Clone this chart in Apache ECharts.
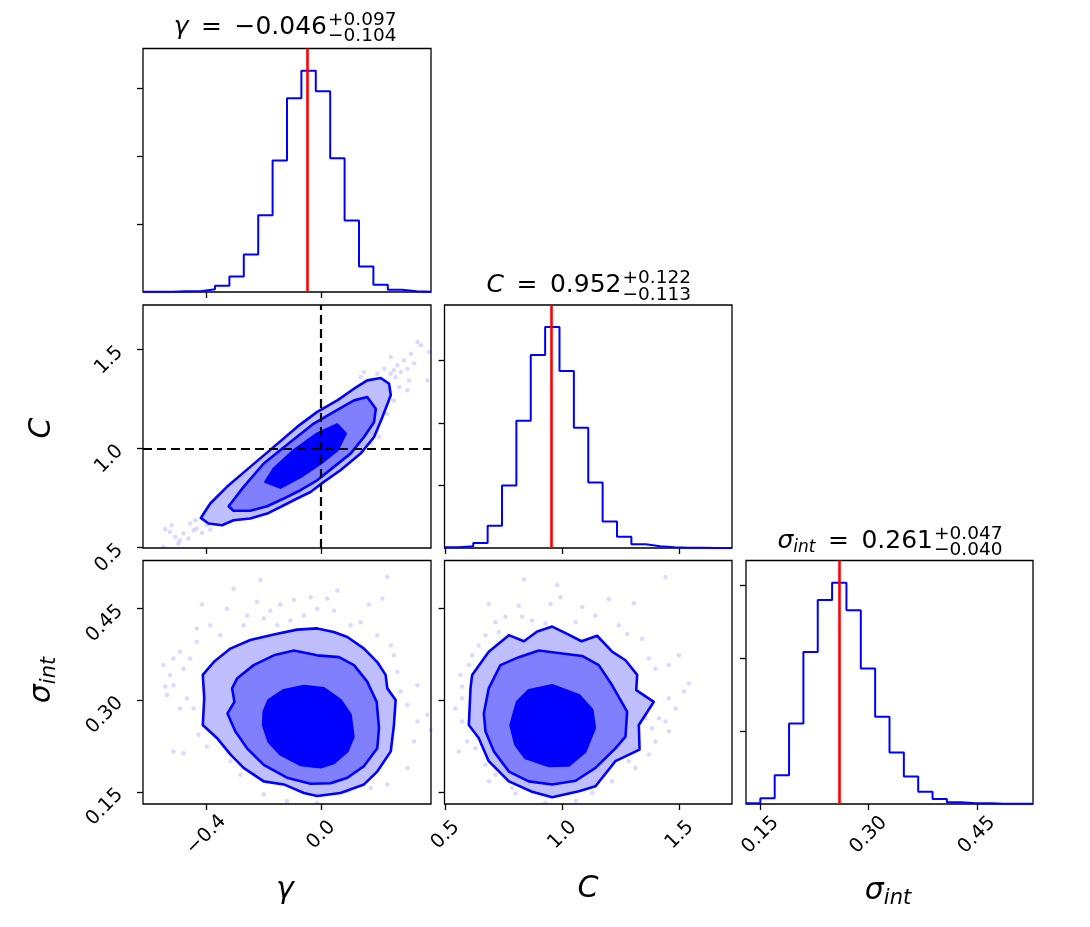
<!DOCTYPE html>
<html>
<head>
  <meta charset="UTF-8">
  <title>corner plot</title>
  <style>
    html, body { height: 100%; width: 100%; margin: 0; padding: 0; background: #fff; }
  </style>
  <script src="https://cdn.jsdelivr.net/npm/echarts@6/dist/echarts.min.js"></script>
</head>
<body>
<div id="main" style="width: 1090px; height: 927px;"></div>
<script>
  // --- data ---
  // axis limits of each parameter
  var gammaRange = [-0.62, 0.382];
  var cRange = [0.496, 1.724];
  var sigmaRange = [0.13, 0.528];

  // tick values
  var gammaTicks = [-0.4, 0.0];
  var cTicks = [0.5, 1.0, 1.5];
  var sigmaTicks = [0.15, 0.30, 0.45];
  var histTicks = [1000, 2000, 3000];

  // median, +err, -err
  var gammaSummary = [-0.046, 0.097, 0.104];
  var cSummary = [0.952, 0.122, 0.113];
  var sigmaSummary = [0.261, 0.047, 0.040];

  // truth values (dashed lines)
  var truthGamma = 0.0;
  var truthC = 1.0;

  // histogram counts, 20 bins over the axis range
  var gammaCounts = [5, 5, 10, 10, 39, 93, 230, 554, 1132, 1936, 2853, 3260, 2956, 1971, 1054, 377, 108, 34, 10, 5];
  var cCounts = [11, 27, 80, 356, 1000, 2037, 3090, 3537, 2835, 1926, 1048, 426, 181, 59, 27, 11, 5, 5, 0, 0];
  var sigmaCounts = [9, 78, 393, 1105, 2087, 2799, 3037, 2658, 1858, 1196, 708, 379, 169, 68, 23, 9, 9, 5, 5, 5];

  // contours: gamma vs C
  var gcOuter = [[-0.419, 0.648], [-0.392, 0.620], [-0.345, 0.611], [-0.305, 0.636], [-0.247, 0.645], [-0.188, 0.670],
    [-0.130, 0.712], [-0.084, 0.746], [-0.037, 0.779], [0.009, 0.830], [0.067, 0.889], [0.137, 0.973], [0.184, 1.057],
    [0.213, 1.158], [0.242, 1.268], [0.236, 1.327], [0.207, 1.355], [0.160, 1.343], [0.114, 1.301], [0.056, 1.242],
    [-0.014, 1.184], [-0.084, 1.108], [-0.165, 1.007], [-0.247, 0.906], [-0.328, 0.805], [-0.386, 0.721]];
  var gcMid = [[-0.322, 0.707], [-0.305, 0.684], [-0.247, 0.684], [-0.188, 0.707], [-0.130, 0.746], [-0.072, 0.788],
    [-0.014, 0.838], [0.044, 0.906], [0.102, 0.973], [0.149, 1.057], [0.184, 1.133], [0.190, 1.200], [0.160, 1.259],
    [0.114, 1.242], [0.044, 1.184], [-0.026, 1.125], [-0.107, 1.032], [-0.200, 0.923], [-0.270, 0.805]];
  var gcInner = [[-0.194, 0.830], [-0.142, 0.801], [-0.072, 0.855], [-0.002, 0.923], [0.056, 0.990], [0.085, 1.074],
    [0.056, 1.120], [-0.014, 1.074], [-0.095, 0.990], [-0.165, 0.897]];

  // contours: gamma vs sigma_int
  var gsOuter = [[-0.412, 0.341], [-0.407, 0.303], [-0.412, 0.259], [-0.363, 0.238], [-0.316, 0.211], [-0.270, 0.189],
    [-0.200, 0.167], [-0.130, 0.162], [-0.060, 0.148], [-0.014, 0.143], [0.067, 0.148], [0.149, 0.162], [0.195, 0.183],
    [0.242, 0.216], [0.253, 0.259], [0.259, 0.300], [0.230, 0.319], [0.224, 0.341], [0.195, 0.362], [0.149, 0.384],
    [0.091, 0.403], [0.044, 0.411], [-0.014, 0.417], [-0.084, 0.415], [-0.165, 0.407], [-0.247, 0.398], [-0.316, 0.384],
    [-0.374, 0.362]];
  var gsMid = [[-0.310, 0.319], [-0.302, 0.297], [-0.326, 0.278], [-0.299, 0.249], [-0.258, 0.221], [-0.200, 0.194],
    [-0.119, 0.173], [-0.037, 0.163], [0.033, 0.164], [0.091, 0.173], [0.149, 0.192], [0.195, 0.221], [0.201, 0.254],
    [0.193, 0.297], [0.160, 0.330], [0.114, 0.357], [0.062, 0.370], [-0.014, 0.373], [-0.095, 0.381], [-0.165, 0.373],
    [-0.235, 0.357], [-0.293, 0.335]];
  var gsInner = [[-0.202, 0.259], [-0.183, 0.232], [-0.142, 0.211], [-0.072, 0.194], [-0.002, 0.190], [0.044, 0.197],
    [0.091, 0.216], [0.112, 0.240], [0.102, 0.276], [0.067, 0.300], [0.009, 0.319], [-0.060, 0.323], [-0.130, 0.316],
    [-0.183, 0.300], [-0.200, 0.281]];

  // contours: C vs sigma_int
  var csOuter = [[0.600, 0.259], [0.607, 0.319], [0.614, 0.341], [0.685, 0.379], [0.771, 0.406], [0.835, 0.396],
    [0.892, 0.412], [0.956, 0.420], [1.020, 0.408], [1.081, 0.396], [1.148, 0.405], [1.212, 0.379], [1.269, 0.365],
    [1.319, 0.341], [1.315, 0.316], [1.390, 0.297], [1.326, 0.259], [1.329, 0.219], [1.226, 0.200], [1.141, 0.159],
    [1.070, 0.151], [0.956, 0.141], [0.870, 0.150], [0.771, 0.167], [0.685, 0.200], [0.642, 0.238]];
  var csMid = [[0.664, 0.278], [0.685, 0.319], [0.735, 0.357], [0.813, 0.370], [0.899, 0.381], [0.999, 0.376],
    [1.084, 0.372], [1.155, 0.357], [1.212, 0.324], [1.276, 0.281], [1.269, 0.240], [1.226, 0.221], [1.141, 0.189],
    [1.056, 0.168], [0.956, 0.162], [0.856, 0.167], [0.771, 0.183], [0.707, 0.216], [0.671, 0.249]];
  var csInner = [[0.778, 0.259], [0.799, 0.227], [0.842, 0.205], [0.942, 0.192], [1.027, 0.193], [1.098, 0.216],
    [1.138, 0.254], [1.127, 0.284], [1.070, 0.308], [0.956, 0.324], [0.856, 0.316], [0.806, 0.297]];

  // faint samples outside the contours
  var gcPoints = [[-0.543, 0.591], [-0.526, 0.577], [-0.508, 0.552], [-0.491, 0.535], [-0.549, 0.502], [-0.497, 0.519],
    [-0.456, 0.620], [-0.438, 0.636], [-0.479, 0.569], [-0.462, 0.544], [-0.433, 0.594], [-0.398, 0.611], [-0.380, 0.636],
    [-0.520, 0.611], [-0.444, 0.586], [-0.415, 0.572], [-0.386, 0.589], [-0.363, 0.620], [-0.340, 0.640], [-0.351, 0.678],
    [-0.316, 0.695], [-0.293, 0.721], [-0.264, 0.754], [0.335, 1.537], [0.347, 1.520], [0.312, 1.478], [0.288, 1.444],
    [0.265, 1.419], [0.253, 1.394], [0.242, 1.377], [0.259, 1.360], [0.277, 1.386], [0.300, 1.402], [0.323, 1.428],
    [0.370, 1.343], [0.271, 1.310], [0.300, 1.293], [0.253, 1.242], [0.230, 1.175], [0.207, 1.141], [0.190, 1.091],
    [0.201, 1.057], [0.172, 1.024], [0.149, 1.007], [0.219, 1.402], [0.195, 1.377], [0.149, 1.386], [0.137, 1.360],
    [0.376, 1.487], [0.306, 1.343], [0.242, 1.461]];
  var gsPoints = [[-0.415, 0.456], [-0.305, 0.482], [-0.212, 0.496], [-0.142, 0.456], [-0.095, 0.464], [-0.037, 0.468],
    [0.021, 0.466], [0.056, 0.479], [0.166, 0.456], [0.213, 0.466], [0.230, 0.501], [-0.223, 0.460], [-0.177, 0.446],
    [-0.258, 0.438], [-0.328, 0.449], [-0.386, 0.422], [-0.433, 0.417], [-0.491, 0.379], [-0.514, 0.368], [-0.549, 0.357],
    [-0.543, 0.322], [-0.514, 0.324], [-0.479, 0.351], [-0.456, 0.368], [-0.444, 0.286], [-0.491, 0.286], [-0.514, 0.216],
    [-0.479, 0.213], [-0.427, 0.243], [-0.398, 0.224], [-0.316, 0.200], [-0.281, 0.178], [-0.247, 0.183], [-0.200, 0.146],
    [-0.119, 0.135], [-0.014, 0.132], [0.091, 0.151], [0.172, 0.156], [0.230, 0.162], [0.300, 0.189], [0.323, 0.232],
    [0.335, 0.265], [0.370, 0.276], [0.381, 0.251], [0.277, 0.314], [0.300, 0.292], [0.335, 0.324], [0.265, 0.346],
    [0.253, 0.373], [0.242, 0.389], [0.195, 0.406], [0.137, 0.427], [0.102, 0.422], [0.044, 0.446], [-0.014, 0.449],
    [-0.060, 0.438], [-0.107, 0.430], [-0.153, 0.422], [-0.200, 0.433], [-0.270, 0.422], [-0.351, 0.406], [-0.433, 0.395],
    [-0.467, 0.303], [-0.526, 0.341], [-0.537, 0.308]];
  var csPoints = [[0.835, 0.497], [0.977, 0.488], [1.440, 0.501], [0.685, 0.457], [0.813, 0.454], [0.949, 0.457],
    [0.991, 0.468], [1.198, 0.465], [1.305, 0.458], [0.756, 0.436], [0.714, 0.427], [0.870, 0.430], [0.927, 0.425],
    [1.084, 0.452], [1.141, 0.438], [1.241, 0.422], [1.276, 0.408], [1.340, 0.400], [1.369, 0.368], [1.397, 0.351],
    [1.454, 0.357], [1.497, 0.373], [1.540, 0.327], [1.519, 0.314], [1.454, 0.303], [1.412, 0.270], [1.383, 0.254],
    [1.440, 0.265], [1.454, 0.249], [1.397, 0.232], [1.369, 0.211], [1.312, 0.189], [1.212, 0.167], [1.127, 0.148],
    [1.056, 0.135], [0.927, 0.132], [0.799, 0.147], [0.714, 0.178], [0.671, 0.194], [0.628, 0.221], [0.593, 0.232],
    [0.557, 0.216], [0.571, 0.265], [0.543, 0.286], [0.571, 0.322], [0.564, 0.341], [0.600, 0.357], [0.614, 0.373],
    [0.671, 0.406], [0.728, 0.411], [1.056, 0.427], [0.828, 0.436], [0.642, 0.389], [0.571, 0.303], [0.785, 0.156],
    [0.685, 0.167], [1.283, 0.200], [1.355, 0.270], [1.483, 0.286]];

  // --- chart ---
  var FONT = 'DejaVu Sans';
  var BLUE = '#0000ff';
  var chart = echarts.init(document.getElementById('main'), null, { renderer: 'canvas' });

  function minus(s) { return s.replace('-', '\u2212'); }
  function fmt1(v) { return minus(v.toFixed(1)); }
  function fmt2(v) { return minus(v.toFixed(2)); }

  // bin edges over an axis range
  function histData(range, counts) {
    var n = counts.length, w = (range[1] - range[0]) / n, out = [];
    for (var i = 0; i < n; i++) out.push([range[0] + i * w, counts[i]]);
    out.push([range[1], counts[n - 1]]);
    return out;
  }
  function histMax(counts) { return Math.max.apply(null, counts) * 1.1; }

  var grids = [
    { left: 143, top: 48.5, width: 288, height: 243.5 },   // 0 hist gamma
    { left: 143, top: 305, width: 288, height: 243 },      // 1 gamma-C
    { left: 444.5, top: 305, width: 287.5, height: 243 },  // 2 hist C
    { left: 143, top: 560.5, width: 288, height: 243.5 },  // 3 gamma-sigma
    { left: 444.5, top: 560.5, width: 287.5, height: 243.5 }, // 4 C-sigma
    { left: 746, top: 560.5, width: 287, height: 243.5 }   // 5 hist sigma
  ].map(function (g) {
    g.show = true; g.borderColor = '#000'; g.borderWidth = 1.3; g.backgroundColor = 'transparent';
    g.containLabel = false; g.outerBoundsMode = 'none';
    return g;
  });

  function axis(gridIndex, min, max, ticks, fmt, showLabel, isX) {
    var label = {
      show: showLabel, customValues: ticks, formatter: fmt, rotate: 45,
      fontSize: 19.5, color: '#000', fontFamily: FONT
    };
    if (isX) {
      // matplotlib centres the rotated x labels under the tick
      label.align = 'center'; label.verticalAlign = 'middle'; label.margin = 31;
    } else {
      label.margin = 23;
    }
    return {
      type: 'value', gridIndex: gridIndex, min: min, max: max,
      axisLine: { show: false, onZero: false },
      axisTick: { show: true, length: 6, customValues: ticks, lineStyle: { color: '#000', width: 1.3 } },
      axisLabel: label,
      splitLine: { show: false }
    };
  }

  var xAxes = [
    axis(0, gammaRange[0], gammaRange[1], gammaTicks, fmt1, false, true),
    axis(1, gammaRange[0], gammaRange[1], gammaTicks, fmt1, false, true),
    axis(2, cRange[0], cRange[1], cTicks, fmt1, false, true),
    axis(3, gammaRange[0], gammaRange[1], gammaTicks, fmt1, true, true),
    axis(4, cRange[0], cRange[1], cTicks, fmt1, true, true),
    axis(5, sigmaRange[0], sigmaRange[1], sigmaTicks, fmt2, true, true)
  ];
  var yAxes = [
    axis(0, 0, histMax(gammaCounts), histTicks, null, false),
    axis(1, cRange[0], cRange[1], cTicks, fmt1, true),
    axis(2, 0, histMax(cCounts), histTicks, null, false),
    axis(3, sigmaRange[0], sigmaRange[1], sigmaTicks, fmt2, true),
    axis(4, sigmaRange[0], sigmaRange[1], sigmaTicks, fmt2, false),
    axis(5, 0, histMax(sigmaCounts), histTicks, null, false)
  ];

  function histSeries(g, range, counts, median) {
    return {
      type: 'line', xAxisIndex: g, yAxisIndex: g, step: 'end', symbol: 'none', silent: true,
      data: histData(range, counts),
      lineStyle: { color: BLUE, width: 2 },
      markLine: {
        silent: true, symbol: 'none', label: { show: false },
        lineStyle: { color: '#ff0000', width: 2.6, type: 'solid' },
        data: [{ xAxis: median }]
      }
    };
  }

  function contourSeries(g, poly, fill) {
    return {
      type: 'custom', xAxisIndex: g, yAxisIndex: g, silent: true, z: 3,
      data: [poly[0]],
      renderItem: function (params, api) {
        var pts = poly.map(function (p) { return api.coord(p); });
        return {
          type: 'polygon', shape: { points: pts },
          style: { fill: fill, stroke: BLUE, lineWidth: 2.6, lineJoin: 'round' }
        };
      }
    };
  }

  function scatterSeries(g, pts) {
    return {
      type: 'scatter', xAxisIndex: g, yAxisIndex: g, silent: true, z: 2,
      symbolSize: 4.5, data: pts,
      itemStyle: { color: 'rgba(0,0,255,0.18)' }
    };
  }

  var LIGHT = '#bfbfff', MID = '#8080ff';

  var series = [
    histSeries(0, gammaRange, gammaCounts, gammaSummary[0]),
    histSeries(2, cRange, cCounts, cSummary[0]),
    histSeries(5, sigmaRange, sigmaCounts, sigmaSummary[0]),

    scatterSeries(1, gcPoints),
    contourSeries(1, gcOuter, LIGHT), contourSeries(1, gcMid, MID), contourSeries(1, gcInner, BLUE),
    scatterSeries(3, gsPoints),
    contourSeries(3, gsOuter, LIGHT), contourSeries(3, gsMid, MID), contourSeries(3, gsInner, BLUE),
    scatterSeries(4, csPoints),
    contourSeries(4, csOuter, LIGHT), contourSeries(4, csMid, MID), contourSeries(4, csInner, BLUE),

    // truth lines
    {
      type: 'line', xAxisIndex: 1, yAxisIndex: 1, data: [], z: 10, silent: true,
      markLine: {
        silent: true, symbol: 'none', label: { show: false }, z: 10,
        lineStyle: { color: '#000', width: 2.2, type: [9, 5] },
        data: [{ xAxis: truthGamma }, { yAxis: truthC }]
      }
    }
  ];

  // title text pieces: main right-aligned at x, sup/sub left-aligned at x
  var EN = '\u2002';
  function titleParts(x, yMid, name, summary) {
    return [
      { type: 'text', x: x, y: yMid, style: { text: name + EN + '=' + EN + minus(summary[0].toFixed(3)), align: 'right', verticalAlign: 'middle',
          fontSize: 25, fontFamily: FONT, fill: '#000',
          rich: { i: { fontSize: 25, fontStyle: 'italic', fontFamily: FONT, lineHeight: 30 },
                  s: { fontSize: 17, fontStyle: 'italic', fontFamily: FONT, verticalAlign: 'bottom', lineHeight: 17 } } } },
      { type: 'text', x: x + 1, y: yMid - 7, style: { text: '+' + summary[1].toFixed(3), align: 'left', verticalAlign: 'middle', fontSize: 18.5, fontFamily: FONT, fill: '#000' } },
      { type: 'text', x: x + 1, y: yMid + 9.5, style: { text: '\u2212' + summary[2].toFixed(3), align: 'left', verticalAlign: 'middle', fontSize: 18.5, fontFamily: FONT, fill: '#000' } }
    ];
  }

  function bigLabel(x, y, text, rot) {
    return {
      type: 'text', x: x, y: y, rotation: rot || 0,
      style: {
        text: text, align: 'center', verticalAlign: 'middle', fill: '#000', fontFamily: FONT, fontSize: 30,
        rich: {
          i: { fontSize: 30, fontStyle: 'italic', fontFamily: FONT, lineHeight: 36 },
          s: { fontSize: 21, fontStyle: 'italic', fontFamily: FONT, verticalAlign: 'bottom', lineHeight: 21 }
        }
      }
    };
  }

  var graphics = []
    .concat(titleParts(327, 27, '{i|\u03b3}', gammaSummary))
    .concat(titleParts(621.5, 285.5, '{i|C}', cSummary))
    .concat(titleParts(933, 541, '{i|\u03c3}{s|int}', sigmaSummary))
    .concat([
      bigLabel(285, 890, '{i|\u03b3}'),
      bigLabel(588, 889, '{i|C}'),
      bigLabel(888, 891, '{i|\u03c3}{s|int}'),
      bigLabel(42, 428, '{i|C}', Math.PI / 2),
      bigLabel(42, 680, '{i|\u03c3}{s|int}', Math.PI / 2)
    ]);

  var option = {
    animation: false,
    backgroundColor: '#fff',
    grid: grids,
    xAxis: xAxes,
    yAxis: yAxes,
    series: series,
    graphic: graphics
  };
  chart.setOption(option);
</script>
</body>
</html>
